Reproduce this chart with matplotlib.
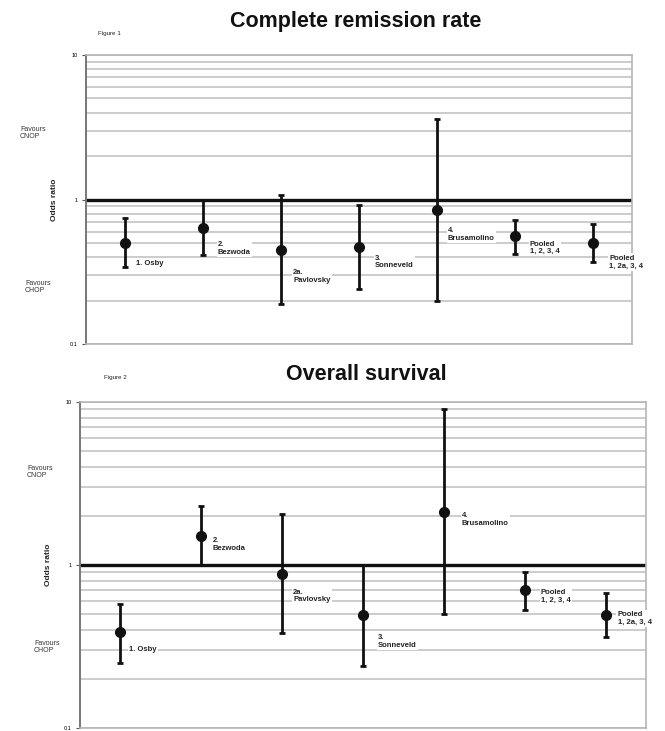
import matplotlib
matplotlib.use("Agg")
import matplotlib.pyplot as plt
from matplotlib.ticker import FixedLocator, LogLocator, NullFormatter, FixedFormatter

plt.rcParams["font.family"] = ["Liberation Sans", "DejaVu Sans"]

# Trials (and pooled estimates) shown on both panels
studies = ["1. Osby", "2.\nBezwoda", "2a.\nPavlovsky", "3.\nSonneveld",
           "4.\nBrusamolino", "Pooled\n1, 2, 3, 4", "Pooled\n1, 2a, 3, 4"]

# Complete remission rate: odds ratio with 95% CI
cr_or = [0.50, 0.64, 0.45, 0.47, 0.84, 0.56, 0.50]
cr_low = [0.34, 0.41, 0.19, 0.24, 0.20, 0.42, 0.37]
cr_high = [0.75, 1.00, 1.07, 0.92, 3.6, 0.72, 0.68]

# Overall survival: odds ratio with 95% CI
os_or = [0.39, 1.51, 0.88, 0.49, 2.1, 0.70, 0.49]
os_low = [0.25, 1.00, 0.38, 0.24, 0.50, 0.53, 0.36]
os_high = [0.58, 2.3, 2.05, 1.00, 9.0, 0.90, 0.67]

y_ticks = [0.1, 1, 10]
y_ticklabels = ["0.1", "1", "10"]

# label offsets (pixels) from each point
cr_label_off = [(11, -21), (15, -21), (12, -27), (16, -15), (11, -24), (15, -12), (16, -19)]
os_label_off = [(9, -18), (11, -9), (11, -22), (15, -26), (18, -7), (16, -6), (12, -3)]

fig = plt.figure(figsize=(6.65, 7.31), dpi=100)
W, H = 665, 731


def panel(rect, orv, low, high, offs, title, fig_label, title_xy, figlab_xy,
          fav_top, fav_bot, ylab_xy):
    x0, y0, x1, y1 = rect
    ax = fig.add_axes([x0 / W, 1 - y1 / H, (x1 - x0) / W, (y1 - y0) / H])
    ax.set_yscale("log")
    ax.set_ylim(0.1, 10)
    ax.set_xlim(0.5, len(studies) + 0.5)
    ax.yaxis.set_major_locator(FixedLocator(y_ticks))
    ax.yaxis.set_major_formatter(FixedFormatter(y_ticklabels))
    ax.yaxis.set_minor_locator(LogLocator(base=10, subs=range(2, 10)))
    ax.yaxis.set_minor_formatter(NullFormatter())
    ax.tick_params(axis="y", which="major", labelsize=4, length=3, width=0.8,
                   color="#555555", pad=3)
    ax.tick_params(axis="y", which="minor", length=0)
    ax.set_xticks([])
    ax.grid(True, axis="y", which="both", color="#c4c4c4", lw=1.2, zorder=0)
    ax.spines["left"].set_color("#777777")
    ax.spines["left"].set_linewidth(1.4)
    for s in ["right", "top", "bottom"]:
        ax.spines[s].set_color("#b5b5b5")
        ax.spines[s].set_linewidth(1.2)

    xs = list(range(1, len(studies) + 1))
    # white halos break the grid around each interval
    ax.vlines(xs, low, high, color="white", lw=9, zorder=1)
    ax.axhline(1, color="#111111", lw=2.4, zorder=2)
    yerr = [[o - l for o, l in zip(orv, low)], [h - o for o, h in zip(orv, high)]]
    ax.errorbar(xs, orv, yerr=yerr, fmt="o", color="#111111", ms=7, lw=2,
                capsize=2.2, capthick=2, zorder=3)
    for x, y, name, (dx, dy) in zip(xs, orv, studies, offs):
        ax.annotate(name, (x, y), xytext=(dx, dy), textcoords="offset pixels",
                    ha="left", va="center", fontsize=5.5, fontweight="bold",
                    linespacing=1.15, color="#222222", annotation_clip=False,
                    bbox=dict(fc="white", ec="none", pad=0.8), zorder=4)

    fig.text(title_xy[0] / W, 1 - title_xy[1] / H, title, ha="center", va="center",
             fontsize=15.5, fontweight="bold", color="#111111")
    fig.text(figlab_xy[0] / W, 1 - figlab_xy[1] / H, fig_label, ha="left",
             va="center", fontsize=4.5, color="#222222")
    fig.text(fav_top[0] / W, 1 - fav_top[1] / H, "Favours\nCNOP", ha="left",
             va="center", fontsize=5, color="#333333", linespacing=1.1)
    fig.text(fav_bot[0] / W, 1 - fav_bot[1] / H, "Favours\nCHOP", ha="left",
             va="center", fontsize=5, color="#333333", linespacing=1.1)
    fig.text(ylab_xy[0] / W, 1 - ylab_xy[1] / H, "Odds ratio", ha="center",
             va="center", rotation=90, fontsize=6, fontweight="bold", color="#222222")
    return ax


panel((86, 55, 632, 344), cr_or, cr_low, cr_high, cr_label_off,
      "Complete remission rate", "Figure 1", (356, 22), (98, 33),
      (20, 133), (25, 287), (55, 200))
panel((80, 402, 646, 728), os_or, os_low, os_high, os_label_off,
      "Overall survival", "Figure 2", (366, 374), (104, 378),
      (27, 472), (34, 647), (48, 565))

fig.savefig("out.png", dpi=100)
